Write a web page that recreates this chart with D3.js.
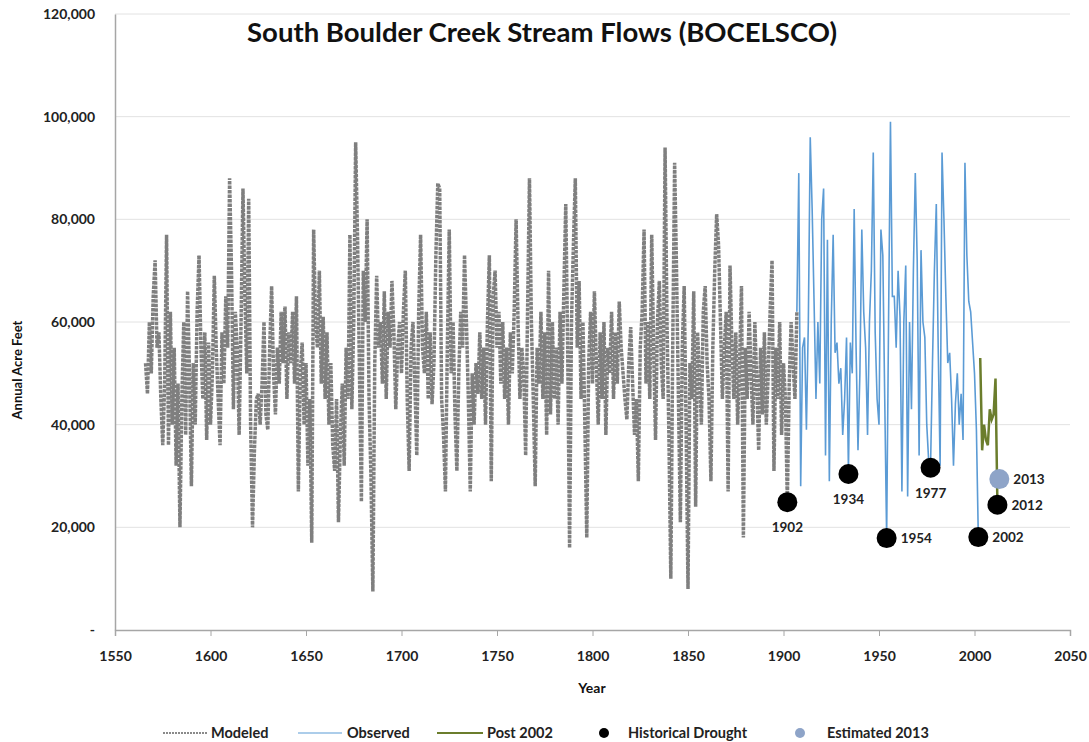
<!DOCTYPE html>
<html>
<head>
<meta charset="utf-8">
<script src="https://cdn.jsdelivr.net/npm/d3@7"></script>
<style>
  body { margin: 0; background: #fff; }
  text { font-family: Lato, "Open Sans", sans-serif; }
</style>
</head>
<body>
<div id="chart"></div>
<script>
// modeled (tree ring) flows, thousand acre feet, one value per year from 1566
var modeledStart = 1566;
var modeled = [
  52, 46, 60, 50,
  65, 72, 55, 58, 45, 36, 48, 77, 36, 62,
  40, 55, 32, 48, 20, 45, 60, 38, 66, 50,
  28, 52, 40, 62, 73, 55, 45, 58, 37, 56,
  40, 50, 69, 55, 45, 36, 58, 48, 65, 55,
  88, 70, 43, 62, 55, 38, 60, 86, 65, 50,
  84, 40, 20, 35, 45, 46, 40, 48, 60, 42,
  39, 55, 67, 50, 42, 55, 48, 62, 52, 63,
  45, 58, 52, 62, 48, 65, 27, 50, 56, 40,
  52, 32, 45, 17, 78, 60, 55, 70, 48, 61,
  45, 58, 40, 52, 36, 31, 45, 21, 38, 48,
  32, 55, 45, 77, 43, 60, 95, 76, 50, 25,
  70, 60, 80, 45, 30, 7.5, 52, 69, 55, 60,
  48, 66, 45, 62, 55, 68, 58, 43, 55, 60,
  50, 62, 70, 45, 31, 55, 60, 48, 34, 62,
  77, 55, 50, 62, 45, 58, 44, 52, 73, 87,
  86, 45, 38, 27, 55, 78, 50, 60, 42, 31,
  50, 62, 55, 73, 60, 45, 27, 50, 40, 52,
  46, 58, 45, 55, 40, 60, 73, 29, 65, 70,
  55, 62, 48, 60, 45, 55, 40, 58, 50, 62,
  80, 60, 45, 55, 50, 34, 62, 88, 60, 45,
  28, 55, 48, 62, 45, 58, 38, 70, 42, 60,
  45, 55, 40, 62, 48, 66, 83, 55, 16, 60,
  75, 88, 55, 68, 45, 60, 40, 18, 52, 62,
  48, 66, 52, 40, 58, 45, 60, 38, 55, 50,
  62, 45, 58, 48, 64, 55, 50, 45, 41, 52,
  59, 48, 38, 45, 29, 55, 62, 78, 48, 60,
  45, 77, 55, 37, 60, 68, 52, 45, 94, 60,
  38, 10, 55, 91, 70, 45, 21, 55, 67, 40,
  8, 52, 45, 66, 24, 58, 50, 40, 62, 67,
  52, 45, 29, 55, 70, 81, 75, 60, 45, 55,
  62, 27, 71, 55, 45, 58, 40, 52, 67, 18,
  55, 45, 62, 50, 40, 60, 48, 35, 55, 42,
  58, 40, 50, 62, 72, 31, 55, 45, 60, 38,
  52, 45, 25, 48, 60, 52, 45, 62
];

// observed gauge flows from 1907
var observedStart = 1907;
var observed = [
  62, 89, 28,
  55, 57, 39, 60, 96, 82, 64, 45, 60, 48,
  80, 86, 34, 76, 29, 60, 77, 54, 56, 48,
  51, 38, 45, 57, 31, 56, 50, 82, 55, 35,
  50, 78, 62, 55, 38, 60, 70, 93, 58, 45,
  40, 78, 73, 45, 18, 60, 99, 65, 65, 55,
  70, 61, 27, 60, 71, 26, 60, 43, 70, 89,
  72, 34, 74, 60, 57, 40, 33, 32, 52, 70,
  83, 55, 32, 93, 80, 65, 52, 54, 45, 32,
  44, 50, 40, 46, 37, 91, 73, 64, 62, 56,
  50, 39, 18
];

// post 2002 flows
var postStart = 2003;
var post2002 = [53, 35, 40, 37, 36, 43, 41, 42, 49, 24.4];

var droughtYears = [1902, 1934, 1954, 1977, 2002, 2012];
var droughtFlows = [24.9, 30.4, 17.9, 31.6, 18.1, 24.4];
var estYear = 2013;
var estFlow = 29.4;

var yTicks = [0, 20000, 40000, 60000, 80000, 100000, 120000];
var xTicks = [1550, 1600, 1650, 1700, 1750, 1800, 1850, 1900, 1950, 2000, 2050];

function toSeries(start, vals) {
  return vals.map(function(v, i) { return {year: start + i, flow: v * 1000}; });
}

var W = 1089, H = 742;
var svg = d3.select("#chart").append("svg")
  .attr("width", W).attr("height", H);

var x = d3.scaleLinear().domain([1550, 2050]).range([115, 1070]);
var y = d3.scaleLinear().domain([0, 120000]).range([630, 14]);

// grid
svg.append("g").selectAll("line")
  .data(yTicks.slice(1))
  .enter().append("line")
  .attr("x1", 115).attr("x2", 1070)
  .attr("y1", function(d) { return y(d); })
  .attr("y2", function(d) { return y(d); })
  .style("stroke", "#e2e2e2").style("stroke-width", 1);

// axes
var fmt = d3.format(",");
var yAxis = svg.append("g")
  .attr("transform", "translate(115,0)")
  .call(d3.axisLeft(y).tickValues(yTicks).tickSize(0).tickPadding(20)
    .tickFormat(function(d) { return d === 0 ? "-" : fmt(d); }));
yAxis.select(".domain").style("stroke", "#a6a6a6").style("stroke-width", 1.5);
yAxis.selectAll("text").style("font-size", "14px").style("font-weight", "bold")
  .style("fill", "#222").style("font-family", "Lato");

var xAxis = svg.append("g")
  .attr("transform", "translate(0,630)")
  .call(d3.axisBottom(x).tickValues(xTicks).tickSize(6).tickPadding(15)
    .tickFormat(d3.format("d")));
xAxis.select(".domain").style("stroke", "#a6a6a6").style("stroke-width", 1.5);
xAxis.selectAll(".tick line").style("stroke", "#a6a6a6");
xAxis.selectAll("text").style("font-size", "14px").style("font-weight", "bold")
  .style("fill", "#222").style("font-family", "Lato");

var line = d3.line()
  .x(function(d) { return x(d.year); })
  .y(function(d) { return y(d.flow); });

svg.append("path")
  .datum(toSeries(modeledStart, modeled))
  .attr("d", line)
  .style("fill", "none")
  .style("stroke", "#7f7f7f")
  .style("stroke-width", 3.5)
  .style("stroke-dasharray", "3.5,1");

svg.append("path")
  .datum(toSeries(observedStart, observed))
  .attr("d", line)
  .style("fill", "none")
  .style("stroke", "#5b9bd5")
  .style("stroke-width", 1.6);

svg.append("path")
  .datum(toSeries(postStart, post2002))
  .attr("d", line)
  .style("fill", "none")
  .style("stroke", "#6b7d2c")
  .style("stroke-width", 2.5);

// markers
var droughts = droughtYears.map(function(yr, i) { return {year: yr, flow: droughtFlows[i] * 1000}; });
svg.append("circle")
  .attr("cx", x(estYear)).attr("cy", y(estFlow * 1000)).attr("r", 10)
  .style("fill", "#8ea4c8");
svg.append("g").selectAll("circle")
  .data(droughts).enter().append("circle")
  .attr("cx", function(d) { return x(d.year); })
  .attr("cy", function(d) { return y(d.flow); })
  .attr("r", 10)
  .style("fill", "#000");

// point labels: below or to the right
var labelPos = {1902: "below", 1934: "below", 1954: "right", 1977: "below", 2002: "right", 2012: "right"};
svg.append("g").selectAll("text")
  .data(droughts).enter().append("text")
  .attr("x", function(d) { return labelPos[d.year] === "right" ? x(d.year) + 14 : x(d.year); })
  .attr("y", function(d) { return labelPos[d.year] === "right" ? y(d.flow) + 5 : y(d.flow) + 30; })
  .attr("text-anchor", function(d) { return labelPos[d.year] === "right" ? "start" : "middle"; })
  .style("font-size", "13.5px").style("font-weight", "bold").style("fill", "#222")
  .text(function(d) { return d.year; });
svg.append("text")
  .attr("x", x(estYear) + 14).attr("y", y(estFlow * 1000) + 5)
  .style("font-size", "13.5px").style("font-weight", "bold").style("fill", "#222")
  .text("2013");

// titles
svg.append("text")
  .attr("x", 542).attr("y", 42)
  .attr("text-anchor", "middle")
  .style("font-size", "27.5px").style("font-weight", "bold").style("fill", "#111")
  .text("South Boulder Creek Stream Flows (BOCELSCO)");

svg.append("text")
  .attr("transform", "translate(22,370) rotate(-90)")
  .attr("text-anchor", "middle")
  .style("font-size", "13px").style("font-weight", "bold").style("fill", "#111")
  .text("Annual Acre Feet");

svg.append("text")
  .attr("x", 592).attr("y", 693)
  .attr("text-anchor", "middle")
  .style("font-size", "14px").style("font-weight", "bold").style("fill", "#111")
  .text("Year");

// legend
var lg = svg.append("g").attr("transform", "translate(0,733)");
lg.append("line").attr("x1", 163).attr("x2", 208).attr("y1", 0).attr("y2", 0)
  .style("stroke", "#8a8a8a").style("stroke-width", 2).style("stroke-dasharray", "2,1");
lg.append("text").attr("x", 211).attr("y", 5).text("Modeled");
lg.append("line").attr("x1", 298).attr("x2", 342).attr("y1", 0).attr("y2", 0)
  .style("stroke", "#5b9bd5").style("stroke-width", 1.2);
lg.append("text").attr("x", 347).attr("y", 5).text("Observed");
lg.append("line").attr("x1", 437).attr("x2", 483).attr("y1", 0).attr("y2", 0)
  .style("stroke", "#6b7d2c").style("stroke-width", 2.2);
lg.append("text").attr("x", 487).attr("y", 5).text("Post 2002");
lg.append("circle").attr("cx", 604).attr("cy", 0).attr("r", 5).style("fill", "#000");
lg.append("text").attr("x", 628).attr("y", 5).text("Historical Drought");
lg.append("circle").attr("cx", 800).attr("cy", 0).attr("r", 5).style("fill", "#8ea4c8");
lg.append("text").attr("x", 827).attr("y", 5).text("Estimated 2013");
lg.selectAll("text").style("font-size", "14.5px").style("font-weight", "bold").style("fill", "#222");
</script>
</body>
</html>
